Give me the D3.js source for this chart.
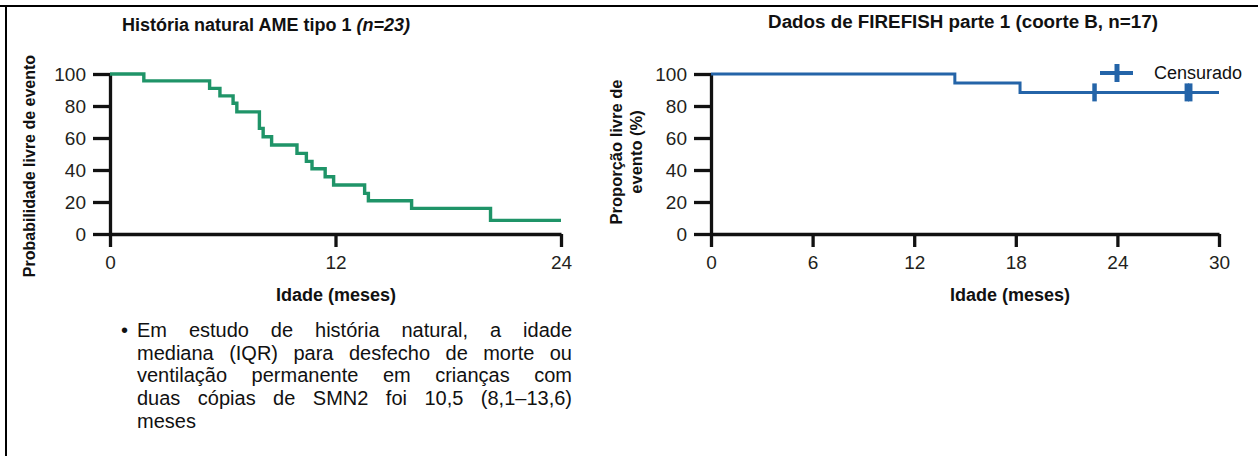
<!DOCTYPE html>
<html>
<head>
<meta charset="utf-8">
<script src="https://cdn.jsdelivr.net/npm/d3@7"></script>
<style>
body { margin: 0; background: #fff; }
svg { display: block; }
text { font-family: "Liberation Sans", Arial, Helvetica, sans-serif; }
</style>
</head>
<body>
<div id="chart-area"></div>
<script>
// historia natural AME tipo 1 (n=23)
var tempoAME = [0, 1.8, 5.3, 5.85, 6.55, 6.75, 7.95, 8.15, 8.6, 9.95, 10.45, 10.75, 11.45, 11.9, 13.55, 13.75, 16.05, 20.25, 24];
var probAME = [100, 95.7, 91, 86.3, 81.7, 76.3, 66, 60.8, 55.6, 50.4, 45.4, 40.8, 35.8, 30.6, 25.4, 20.8, 16, 8.5, 8.5];

// FIREFISH parte 1 (coorte B, n=17)
var tempoFF = [0, 14.4, 18.25, 30];
var propFF = [100, 94.4, 88.5, 88.5];
var censuraFF = [22.65, 28.1, 28.3];

var yTicks = [0, 20, 40, 60, 80, 100];
var xTicksAME = [0, 12, 24];
var xTicksFF = [0, 6, 12, 18, 24, 30];

var textoLinhas = [
    "Em estudo de história natural, a idade",
    "mediana (IQR) para desfecho de morte ou",
    "ventilação permanente em crianças com",
    "duas cópias de SMN2 foi 10,5 (8,1–13,6)",
    "meses"
];

var W = 1258, H = 456;
var verde = "#1f9468", azul = "#2464a8", preto = "#111";

var svg = d3.select("#chart-area")
    .append("svg")
    .attr("width", W)
    .attr("height", H);

// frame (top + left border)
svg.append("line").attr("x1", 0).attr("x2", W).attr("y1", 6).attr("y2", 6)
    .attr("stroke", "#000").attr("stroke-width", 2);
svg.append("line").attr("x1", 6).attr("x2", 6).attr("y1", 6).attr("y2", H)
    .attr("stroke", "#000").attr("stroke-width", 2);

// scales
var yScale = d3.scaleLinear().domain([0, 100]).range([234, 74]);
var xAME = d3.scaleLinear().domain([0, 24]).range([110, 561]);
var xFF = d3.scaleLinear().domain([0, 30]).range([711, 1219]);

function drawAxes(x, ticks) {
    var gx = svg.append("g")
        .attr("transform", "translate(0," + yScale(0) + ")")
        .call(d3.axisBottom(x).tickValues(ticks).tickSize(13).tickSizeOuter(0).tickPadding(9));
    var gy = svg.append("g")
        .attr("transform", "translate(" + x(0) + ",0)")
        .call(d3.axisLeft(yScale).tickValues(yTicks).tickSize(17).tickSizeOuter(0).tickPadding(7));
    [gx, gy].forEach(function(g) {
        g.select(".domain").attr("stroke", preto).attr("stroke-width", 3.3);
        g.selectAll(".tick line").attr("stroke", preto).attr("stroke-width", 3.3);
        g.selectAll(".tick text")
            .attr("fill", "#231f20")
            .style("font-size", "19px");
    });
}

drawAxes(xAME, xTicksAME);
drawAxes(xFF, xTicksFF);

function stepLine(x) {
    return d3.line()
        .x(function(d) { return x(d[0]); })
        .y(function(d) { return yScale(d[1]); })
        .curve(d3.curveStepAfter);
}

svg.append("path")
    .datum(d3.zip(tempoAME, probAME))
    .attr("fill", "none")
    .attr("stroke", verde)
    .attr("stroke-width", 3.4)
    .attr("d", stepLine(xAME));

svg.append("path")
    .datum(d3.zip(tempoFF, propFF))
    .attr("fill", "none")
    .attr("stroke", azul)
    .attr("stroke-width", 3)
    .attr("d", stepLine(xFF));

// censored marks
function valorEm(t) {
    var i = d3.bisectRight(tempoFF, t) - 1;
    return propFF[Math.max(0, i)];
}
svg.selectAll(".censura")
    .data(censuraFF)
    .enter().append("line")
    .attr("class", "censura")
    .attr("x1", function(d) { return xFF(d); })
    .attr("x2", function(d) { return xFF(d); })
    .attr("y1", function(d) { return yScale(valorEm(d)) - 9; })
    .attr("y2", function(d) { return yScale(valorEm(d)) + 9; })
    .attr("stroke", azul)
    .attr("stroke-width", 4.5);

// legend
var leg = svg.append("g").attr("transform", "translate(1117,73)");
leg.append("line").attr("x1", -17).attr("x2", 16).attr("y1", 0).attr("y2", 0)
    .attr("stroke", azul).attr("stroke-width", 4);
leg.append("line").attr("x1", 0).attr("x2", 0).attr("y1", -9).attr("y2", 9)
    .attr("stroke", azul).attr("stroke-width", 5);
leg.append("text").attr("x", 37).attr("y", 6)
    .style("font-size", "18px").attr("fill", "#111")
    .text("Censurado");

// titles
var t1 = svg.append("text").attr("x", 266).attr("y", 31)
    .attr("text-anchor", "middle")
    .style("font-size", "18px").style("font-weight", "bold").attr("fill", "#111");
t1.append("tspan").text("História natural AME tipo 1 ");
t1.append("tspan").style("font-style", "italic").text("(n=23)");

svg.append("text").attr("x", 963).attr("y", 28)
    .attr("text-anchor", "middle")
    .style("font-size", "18.8px").style("font-weight", "bold").attr("fill", "#111")
    .text("Dados de FIREFISH parte 1 (coorte B, n=17)");

// axis titles
svg.append("text").attr("x", 336).attr("y", 301)
    .attr("text-anchor", "middle")
    .style("font-size", "18px").style("font-weight", "bold").attr("fill", "#111")
    .text("Idade (meses)");
svg.append("text").attr("x", 1010).attr("y", 301)
    .attr("text-anchor", "middle")
    .style("font-size", "18px").style("font-weight", "bold").attr("fill", "#111")
    .text("Idade (meses)");

svg.append("text")
    .attr("transform", "translate(29,166) rotate(-90)")
    .attr("text-anchor", "middle").attr("dy", "0.35em")
    .style("font-size", "16px").style("font-weight", "bold").attr("fill", "#111")
    .text("Probabilidade livre de evento");

var yt = svg.append("text")
    .attr("transform", "translate(616,152) rotate(-90)")
    .attr("text-anchor", "middle")
    .style("font-size", "16.5px").style("font-weight", "bold").attr("fill", "#111");
yt.append("tspan").attr("x", 0).attr("dy", "0.35em").text("Proporção livre de");
yt.append("tspan").attr("x", 0).attr("dy", "1.2em").text("evento (%)");

// bullet text (justified)
svg.append("text").attr("x", 121).attr("y", 337)
    .style("font-size", "20px").attr("fill", "#111").text("•");

var larg = 435;
svg.selectAll(".linha")
    .data(textoLinhas)
    .enter().append("text")
    .attr("class", "linha")
    .attr("x", 137)
    .attr("y", function(d, i) { return 337 + i * 22.7; })
    .style("font-size", "20px")
    .attr("fill", "#111")
    .text(function(d) { return d; })
    .each(function(d, i) {
        if (i < textoLinhas.length - 1) {
            var n = d.split(" ").length - 1;
            var w = this.getComputedTextLength();
            d3.select(this).style("word-spacing", ((larg - w) / n) + "px");
        }
    });
</script>
</body>
</html>
